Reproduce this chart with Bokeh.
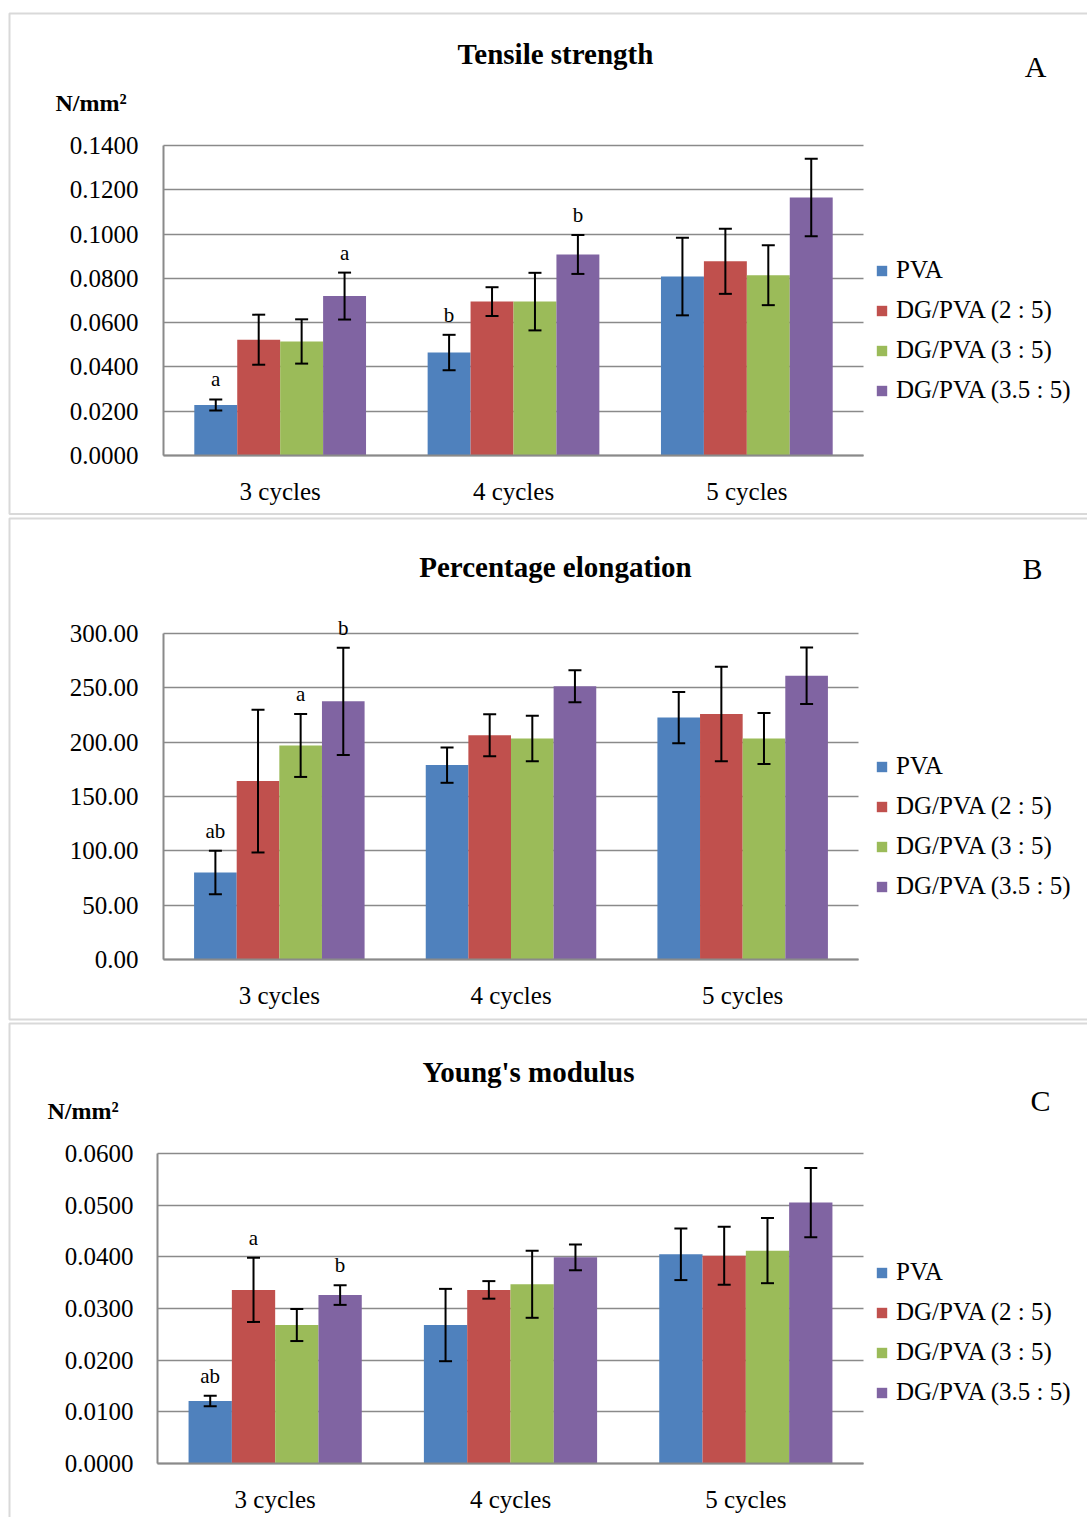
from bokeh.plotting import figure
from bokeh.models import (ColumnDataSource, Whisker, TeeHead, Legend, LegendItem,
                          Label, LabelSet, FixedTicker, NumeralTickFormatter, Range1d,
                          LinearAxis, Grid, BoxAnnotation)
from bokeh.layouts import column
from bokeh.core.properties import value
from bokeh.embed import file_html
from bokeh.resources import INLINE

# ---------------- data ----------------
categories = ["3 cycles", "4 cycles", "5 cycles"]
series = ["PVA", "DG/PVA (2 : 5)", "DG/PVA (3 : 5)", "DG/PVA (3.5 : 5)"]
colors = ["#4F81BD", "#C0504D", "#9BBB59", "#8064A2"]

# Tensile strength (N/mm2), one list per series over the cycles
tensile_pva = [0.0228, 0.0465, 0.0808]
tensile_dg2 = [0.0523, 0.0695, 0.0877]
tensile_dg3 = [0.0515, 0.0695, 0.0814]
tensile_dg35 = [0.0720, 0.0908, 0.1165]
tensile_err_pva = [0.0025, 0.0080, 0.0175]
tensile_err_dg2 = [0.0113, 0.0065, 0.0147]
tensile_err_dg3 = [0.0100, 0.0130, 0.0135]
tensile_err_dg35 = [0.0106, 0.0088, 0.0175]
tensile_letters = [("PVA", "3 cycles", "a"), ("DG/PVA (3.5 : 5)", "3 cycles", "a"),
                   ("PVA", "4 cycles", "b"), ("DG/PVA (3.5 : 5)", "4 cycles", "b")]

# Percentage elongation
elong_pva = [80.0, 178.9, 222.6]
elong_dg2 = [164.2, 206.4, 226.0]
elong_dg3 = [197.0, 203.4, 203.4]
elong_dg35 = [237.6, 251.4, 261.2]
elong_err_pva = [20.0, 16.3, 23.6]
elong_err_dg2 = [65.7, 19.3, 43.5]
elong_err_dg3 = [29.0, 21.0, 23.5]
elong_err_dg35 = [49.4, 14.7, 26.0]
elong_letters = [("PVA", "3 cycles", "ab"), ("DG/PVA (3 : 5)", "3 cycles", "a"),
                 ("DG/PVA (3.5 : 5)", "3 cycles", "b")]

# Young's modulus (N/mm2)
young_pva = [0.0121, 0.0268, 0.0405]
young_dg2 = [0.0336, 0.0336, 0.0402]
young_dg3 = [0.0268, 0.0347, 0.0412]
young_dg35 = [0.0326, 0.0399, 0.0505]
young_err_pva = [0.0010, 0.0070, 0.0050]
young_err_dg2 = [0.0062, 0.0017, 0.0056]
young_err_dg3 = [0.0031, 0.0065, 0.0063]
young_err_dg35 = [0.0019, 0.0025, 0.0067]
young_letters = [("PVA", "3 cycles", "ab"), ("DG/PVA (2 : 5)", "3 cycles", "a"),
                 ("DG/PVA (3.5 : 5)", "3 cycles", "b")]

tensile_ticks = [0.0, 0.02, 0.04, 0.06, 0.08, 0.10, 0.12, 0.14]
elong_ticks = [0, 50, 100, 150, 200, 250, 300]
young_ticks = [0.0, 0.01, 0.02, 0.03, 0.04, 0.05, 0.06]

# ---------------- style / layout ----------------
SERIF = "Liberation Serif"
GRID = "#8a8a8a"
BORDER = "#808080"
PAGE_W = 1087
BAR_W = 0.184


def make_panel(cfg):
    FL, FR, FT, FB = cfg["frame"]          # plot area in page pixels
    CT, CH = cfg["canvas_top"], cfg["canvas_h"]
    ymax = cfg["ticks"][-1]
    ncat = len(categories)

    def px2x(px):
        return ncat * (px - FL) / (FR - FL)

    def py2y(py):
        return ymax * (FB - py) / (FB - FT)

    p = figure(width=PAGE_W, height=CH, output_backend="svg", toolbar_location=None,
               x_range=Range1d(px2x(0), px2x(PAGE_W)),
               y_range=Range1d(py2y(CT + CH), py2y(CT)),
               x_axis_location=None, y_axis_location=None,
               min_border_left=0, min_border_right=0, min_border_top=0, min_border_bottom=0)
    p.outline_line_color = None
    p.background_fill_color = "white"
    p.border_fill_color = "white"
    # drop the default grids; a bounded one is added below
    p.center = [r for r in p.center if not isinstance(r, Grid)]

    grid = Grid(dimension=1, ticker=FixedTicker(ticks=cfg["ticks"]), cross_bounds=(0, ncat),
                grid_line_color=GRID, grid_line_width=1.5)
    p.add_layout(grid)

    ya = LinearAxis(fixed_location=0, bounds=(0, ymax),
                    ticker=FixedTicker(ticks=cfg["ticks"]),
                    formatter=NumeralTickFormatter(format=cfg["fmt"]),
                    axis_line_color=GRID, axis_line_width=2,
                    major_tick_line_color=None, minor_tick_line_color=None,
                    major_tick_out=0, major_tick_in=0,
                    major_label_standoff=cfg["ystandoff"],
                    major_label_text_font=SERIF, major_label_text_font_size="25px",
                    major_label_text_color="black")
    p.add_layout(ya, "left")

    xa = LinearAxis(fixed_location=0, bounds=(0, ncat),
                    ticker=FixedTicker(ticks=[i + 0.5 for i in range(ncat)]),
                    major_label_overrides={i + 0.5: c for i, c in enumerate(categories)},
                    axis_line_color=GRID, axis_line_width=2,
                    major_tick_line_color=None, minor_tick_line_color=None,
                    major_tick_out=0, major_tick_in=0, major_label_standoff=22,
                    major_label_text_font=SERIF, major_label_text_font_size="25px",
                    major_label_text_color="black")
    p.add_layout(xa, "below")

    items = []
    xpos = {}
    for j, s in enumerate(series):
        means = cfg["means"][j]
        errs = cfg["errs"][j]
        xs = [i + 0.5 + (j - (len(series) - 1) / 2) * BAR_W for i in range(ncat)]
        for i, c in enumerate(categories):
            xpos[(s, c)] = (xs[i], means[i] + errs[i])
        src = ColumnDataSource(dict(x=xs, top=means,
                                    upper=[m + e for m, e in zip(means, errs)],
                                    lower=[m - e for m, e in zip(means, errs)]))
        r = p.vbar(x="x", top="top", bottom=0, width=BAR_W, source=src,
                   fill_color=colors[j], line_color=None)
        w = Whisker(source=src, base="x", upper="upper", lower="lower",
                    line_color="black", line_width=2, level="overlay",
                    upper_head=TeeHead(size=13, line_color="black", line_width=2),
                    lower_head=TeeHead(size=13, line_color="black", line_width=2))
        p.add_layout(w)
        items.append(LegendItem(label=s, renderers=[r]))

    # significance letters above the error bars
    lx, ly, lt = [], [], []
    for s, c, t in cfg["letters"]:
        x, up = xpos[(s, c)]
        lx.append(x)
        ly.append(up)
        lt.append(t)
    lsrc = ColumnDataSource(dict(x=lx, y=ly, t=lt))
    p.add_layout(LabelSet(x="x", y="y", text="t", source=lsrc, y_offset=13,
                          text_align="center", text_baseline="alphabetic",
                          text_font=value(SERIF), text_font_size="21px",
                          text_color="black"))

    legend = Legend(items=items, location=cfg["legend_loc"], orientation="vertical",
                    padding=0, margin=0, spacing=12, glyph_width=13, glyph_height=13,
                    label_height=28, label_standoff=8, label_text_font=SERIF,
                    label_text_font_size="25px", label_text_color="black",
                    border_line_color=None, background_fill_alpha=0)
    p.add_layout(legend)

    SHIFT = 11  # baseline correction (px)
    tx, tb = cfg["title_pos"]
    p.add_layout(Label(x=px2x(tx), y=py2y(tb - SHIFT), text=cfg["title"], text_font=SERIF,
                       text_font_size="29px", text_font_style="bold", text_align="center",
                       text_baseline="alphabetic", text_color="black"))
    lx_, lb_ = cfg["letter_pos"]
    p.add_layout(Label(x=px2x(lx_), y=py2y(lb_ - SHIFT), text=cfg["letter"], text_font=SERIF,
                       text_font_size="30px", text_align="center",
                       text_baseline="alphabetic", text_color="black"))
    if cfg.get("unit"):
        ux, ub = cfg["unit_pos"]
        p.add_layout(Label(x=px2x(ux), y=py2y(ub - SHIFT), text=cfg["unit"], text_font=SERIF,
                           text_font_size="24px", text_font_style="bold", text_align="left",
                           text_baseline="alphabetic", text_color="black"))

    # panel frame (left / top / bottom edges; right edge lies outside the page)
    bl, bt, bb = cfg["box"]
    p.add_layout(BoxAnnotation(left=px2x(bl), right=px2x(PAGE_W + 60),
                               top=py2y(bt), bottom=py2y(bb),
                               fill_color=None, fill_alpha=0,
                               line_color=BORDER, line_width=2))
    return p


pA = make_panel(dict(
    frame=(163, 863, 145, 455), canvas_top=0, canvas_h=516,
    ticks=tensile_ticks, fmt="0.0000", ystandoff=25,
    means=[tensile_pva, tensile_dg2, tensile_dg3, tensile_dg35],
    errs=[tensile_err_pva, tensile_err_dg2, tensile_err_dg3, tensile_err_dg35],
    letters=tensile_letters, legend_loc=(875, 516 - 404),
    title="Tensile strength", title_pos=(555, 64),
    letter="A", letter_pos=(1035, 77),
    unit="N/mm²", unit_pos=(55, 113), box=(9, 13, 513.5)))

pB = make_panel(dict(
    frame=(163, 858, 633, 959), canvas_top=516, canvas_h=505,
    ticks=elong_ticks, fmt="0.00", ystandoff=25,
    means=[elong_pva, elong_dg2, elong_dg3, elong_dg35],
    errs=[elong_err_pva, elong_err_dg2, elong_err_dg3, elong_err_dg35],
    letters=elong_letters, legend_loc=(875, 1021 - 900),
    title="Percentage elongation", title_pos=(555, 577),
    letter="B", letter_pos=(1032, 579), box=(9, 518, 1019)))

pC = make_panel(dict(
    frame=(157, 863, 1153, 1463), canvas_top=1021, canvas_h=496,
    ticks=young_ticks, fmt="0.0000", ystandoff=24,
    means=[young_pva, young_dg2, young_dg3, young_dg35],
    errs=[young_err_pva, young_err_dg2, young_err_dg3, young_err_dg35],
    letters=young_letters, legend_loc=(875, 1517 - 1406),
    title="Young's modulus", title_pos=(528, 1082),
    letter="C", letter_pos=(1040, 1111),
    unit="N/mm²", unit_pos=(47, 1121), box=(9, 1023, 1560)))

layout = column(pA, pB, pC, spacing=0)

with open("out.html", "w") as f:
    f.write(file_html(layout, INLINE))
